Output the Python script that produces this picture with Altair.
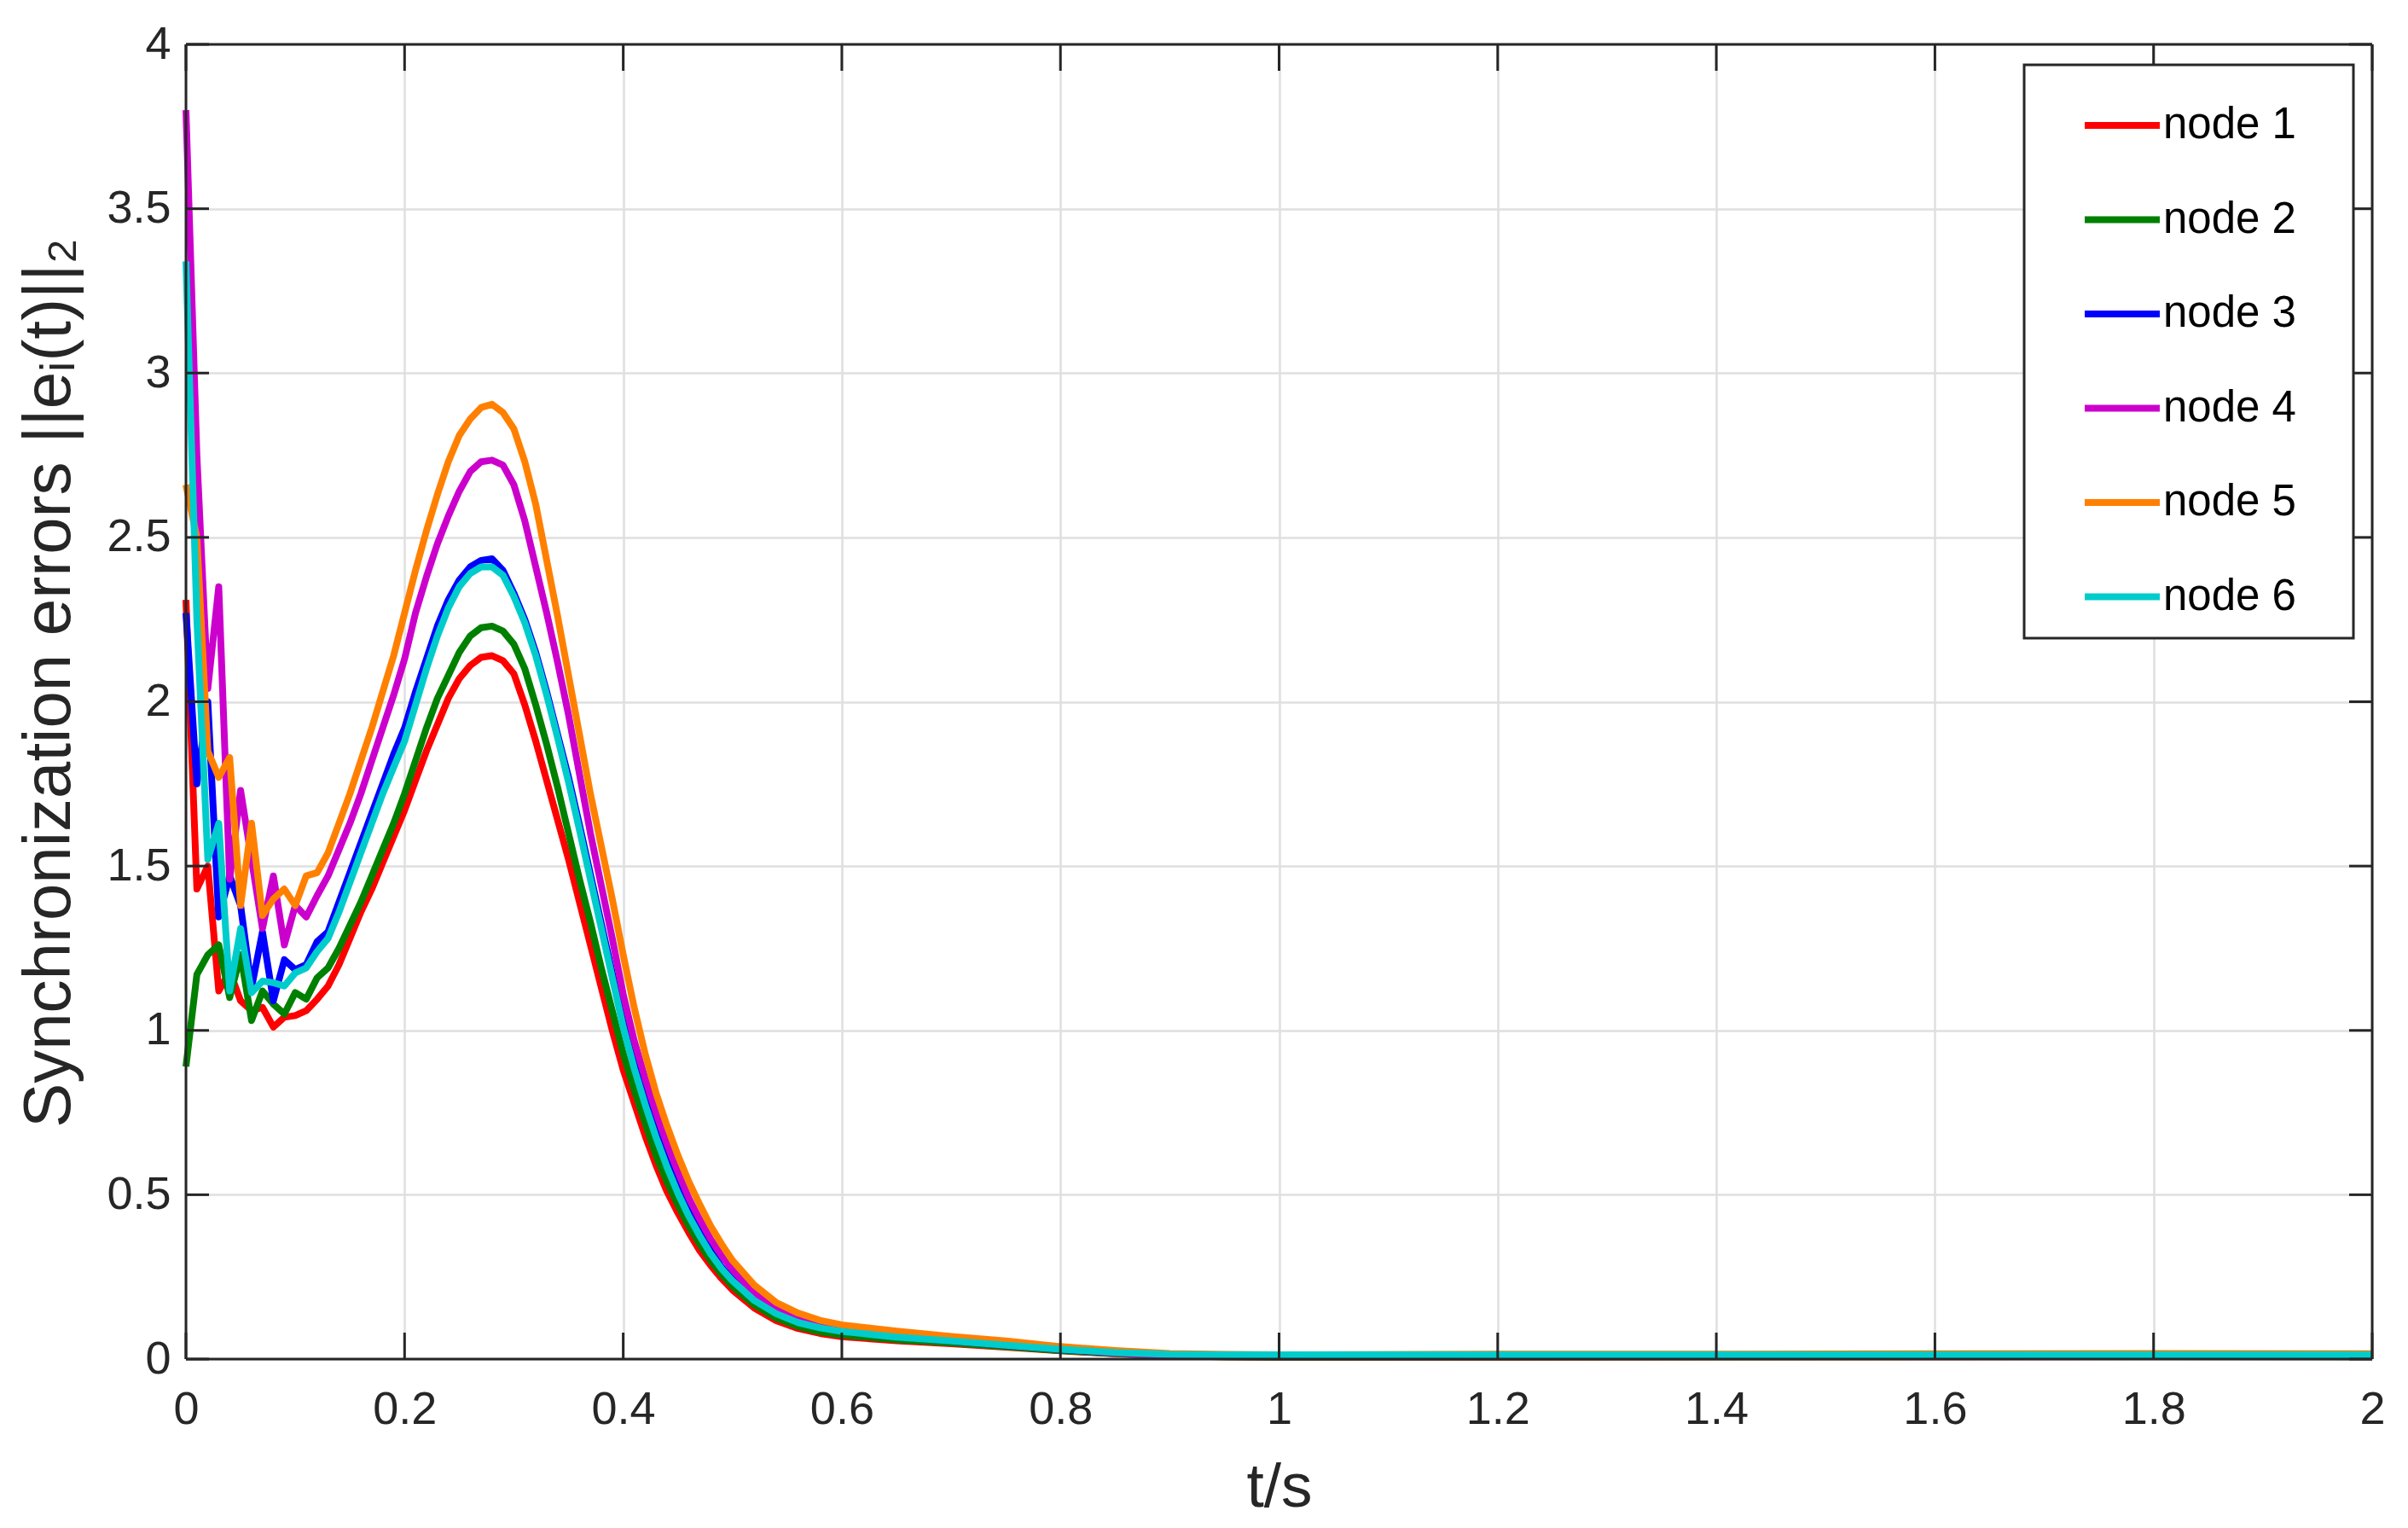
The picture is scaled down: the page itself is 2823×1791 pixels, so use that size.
import altair as alt
import pandas as pd

t = [0.00, 0.01, 0.02, 0.03, 0.04, 0.05, 0.06, 0.07, 0.08, 0.09,
     0.10, 0.11, 0.12, 0.13, 0.14, 0.15, 0.16, 0.17, 0.18, 0.19,
     0.20, 0.21, 0.22, 0.23, 0.24, 0.25, 0.26, 0.27, 0.28, 0.29,
     0.30, 0.31, 0.32, 0.33, 0.34, 0.35, 0.36, 0.37, 0.38, 0.39,
     0.40, 0.41, 0.42, 0.43, 0.44, 0.45, 0.46, 0.47, 0.48, 0.49,
     0.50, 0.52, 0.54, 0.56, 0.58, 0.60, 0.65, 0.70, 0.75, 0.80,
     0.85, 0.90, 0.95, 1.00, 1.2, 1.4, 1.6, 1.8, 2.0]

node1 = [2.31, 1.43, 1.50, 1.12, 1.18, 1.09, 1.06, 1.07, 1.01, 1.04,
         1.045, 1.06, 1.095, 1.135, 1.20, 1.28, 1.36, 1.43, 1.51, 1.59,
         1.67, 1.76, 1.85, 1.93, 2.01, 2.07, 2.11, 2.135, 2.14, 2.125,
         2.085, 1.99, 1.88, 1.76, 1.64, 1.52, 1.39, 1.26, 1.13, 1.00,
         0.88, 0.78, 0.68, 0.59, 0.51, 0.445, 0.385, 0.33, 0.285, 0.245,
         0.21, 0.155, 0.117, 0.093, 0.078, 0.068, 0.056, 0.047, 0.036, 0.025,
         0.016, 0.010, 0.007, 0.006, 0.006, 0.007, 0.007, 0.008, 0.008]

node2 = [0.89, 1.17, 1.23, 1.26, 1.10, 1.23, 1.03, 1.12, 1.08, 1.05,
         1.115, 1.095, 1.16, 1.19, 1.25, 1.32, 1.39, 1.47, 1.55, 1.63,
         1.72, 1.82, 1.92, 2.01, 2.08, 2.15, 2.20, 2.225, 2.23, 2.215,
         2.175, 2.10, 1.99, 1.87, 1.74, 1.60, 1.46, 1.33, 1.19, 1.06,
         0.93, 0.82, 0.72, 0.62, 0.54, 0.47, 0.405, 0.35, 0.30, 0.258,
         0.222, 0.165, 0.125, 0.099, 0.083, 0.073, 0.059, 0.049, 0.038, 0.026,
         0.017, 0.010, 0.007, 0.006, 0.007, 0.007, 0.008, 0.008, 0.007]

node3 = [2.27, 1.75, 2.00, 1.345, 1.47, 1.38, 1.13, 1.30, 1.09, 1.215,
         1.185, 1.20, 1.27, 1.30, 1.39, 1.48, 1.57, 1.66, 1.75, 1.84,
         1.92, 2.03, 2.13, 2.23, 2.31, 2.37, 2.41, 2.43, 2.435, 2.40,
         2.33, 2.25, 2.15, 2.03, 1.90, 1.77, 1.625, 1.475, 1.325, 1.175,
         1.025, 0.90, 0.79, 0.69, 0.60, 0.52, 0.45, 0.385, 0.33, 0.28,
         0.243, 0.182, 0.141, 0.113, 0.097, 0.086, 0.068, 0.055, 0.042, 0.029,
         0.019, 0.012, 0.009, 0.008, 0.009, 0.008, 0.009, 0.009, 0.008]

node4 = [3.80, 2.75, 2.04, 2.35, 1.46, 1.73, 1.52, 1.31, 1.47, 1.26,
         1.38, 1.345, 1.41, 1.47, 1.55, 1.63, 1.72, 1.82, 1.92, 2.02,
         2.13, 2.27, 2.38, 2.48, 2.565, 2.64, 2.70, 2.73, 2.735, 2.72,
         2.66, 2.55, 2.41, 2.27, 2.12, 1.96, 1.78, 1.60, 1.44, 1.28,
         1.11, 0.97, 0.855, 0.75, 0.655, 0.57, 0.49, 0.425, 0.365, 0.315,
         0.272, 0.20, 0.155, 0.125, 0.106, 0.093, 0.073, 0.060, 0.045, 0.031,
         0.019, 0.011, 0.008, 0.007, 0.008, 0.009, 0.008, 0.010, 0.009]

node5 = [2.66, 2.50, 1.85, 1.77, 1.83, 1.38, 1.63, 1.35, 1.40, 1.43,
         1.38, 1.47, 1.48, 1.54, 1.63, 1.72, 1.82, 1.92, 2.03, 2.14,
         2.27, 2.40, 2.52, 2.63, 2.73, 2.81, 2.86, 2.895, 2.905, 2.88,
         2.83, 2.73, 2.60, 2.43, 2.26, 2.08, 1.90, 1.72, 1.56, 1.40,
         1.23, 1.07, 0.93, 0.81, 0.71, 0.62, 0.54, 0.47, 0.405, 0.35,
         0.30, 0.225, 0.172, 0.14, 0.118, 0.104, 0.085, 0.069, 0.055, 0.038,
         0.026, 0.017, 0.014, 0.013, 0.015, 0.015, 0.016, 0.017, 0.016]

node6 = [3.34, 2.25, 1.52, 1.63, 1.12, 1.31, 1.115, 1.15, 1.145, 1.135,
         1.175, 1.19, 1.24, 1.28, 1.36, 1.45, 1.54, 1.63, 1.72, 1.80,
         1.88, 1.99, 2.10, 2.20, 2.285, 2.35, 2.39, 2.41, 2.41, 2.385,
         2.32, 2.24, 2.14, 2.02, 1.89, 1.755, 1.61, 1.46, 1.31, 1.16,
         1.01, 0.885, 0.775, 0.675, 0.585, 0.505, 0.435, 0.375, 0.32, 0.275,
         0.238, 0.178, 0.138, 0.111, 0.095, 0.084, 0.067, 0.055, 0.042, 0.030,
         0.020, 0.014, 0.013, 0.013, 0.013, 0.013, 0.013, 0.013, 0.013]

node_names = ["node 1", "node 2", "node 3", "node 4", "node 5", "node 6"]
node_colors = ["#FF0000", "#008000", "#0000FF", "#CC00CC", "#FF8000", "#00CCCC"]
x_ticks = [0, 0.2, 0.4, 0.6, 0.8, 1.0, 1.2, 1.4, 1.6, 1.8, 2.0]
y_ticks = [0, 0.5, 1.0, 1.5, 2.0, 2.5, 3.0, 3.5, 4.0]
x_edges = [0, 2]
y_edges = [0, 4]

series = [node1, node2, node3, node4, node5, node6]
rows = []
for name, vals in zip(node_names, series):
    for tt, vv in zip(t, vals):
        rows.append({"t": tt, "v": vv, "node": name})
df = pd.DataFrame(rows)
xt_df = pd.DataFrame({"t": x_ticks})
yt_df = pd.DataFrame({"v": y_ticks})
xe_df = pd.DataFrame({"t": x_edges})
ye_df = pd.DataFrame({"v": y_edges})

W, H = 2563, 1541
FRAME = "#262626"
FONT = "Liberation Sans, Arial, Helvetica, sans-serif"

xscale = alt.Scale(domain=[0, 2], nice=False, zero=False)
yscale = alt.Scale(domain=[0, 4], nice=False, zero=False)

lines = alt.Chart(df).mark_line(strokeWidth=8, strokeJoin="round", strokeCap="butt").encode(
    x=alt.X("t:Q", scale=xscale,
            axis=alt.Axis(values=x_ticks, format="~g", title="t/s", grid=True,
                          titleX=W / 2, titleY=150, titleAlign="center",
                          titleBaseline="middle", titleFontSize=73,
                          labelPadding=32, labelFlush=False)),
    y=alt.Y("v:Q", scale=yscale,
            axis=alt.Axis(values=y_ticks, format="~g",
                          title="Synchronization errors ||e\u1d62(t)||\u2082",
                          grid=True, titleX=-160, titleY=748, titleAngle=-90,
                          titleAlign="center", titleBaseline="middle", titleFontSize=78,
                          labelPadding=18, labelFlush=False)),
    color=alt.Color("node:N",
                    scale=alt.Scale(domain=node_names, range=node_colors),
                    legend=alt.Legend(title=".", titleOrient="right", titleOpacity=0,
                                      titleFontSize=10, titlePadding=41,
                                      orient="none", legendX=2155, legendY=24)),
    order=alt.Order("node:N"),
)

frame_x = alt.Chart(xe_df).mark_rule(color=FRAME, strokeWidth=3).encode(
    x=alt.X("t:Q", scale=xscale), y=alt.value(0), y2=alt.value(H))
frame_y = alt.Chart(ye_df).mark_rule(color=FRAME, strokeWidth=3).encode(
    y=alt.Y("v:Q", scale=yscale), x=alt.value(0), x2=alt.value(W))
xb = alt.Chart(xt_df).mark_rule(color=FRAME, strokeWidth=3).encode(
    x=alt.X("t:Q", scale=xscale), y=alt.value(H), y2=alt.value(H - 31))
xtp = alt.Chart(xt_df).mark_rule(color=FRAME, strokeWidth=3).encode(
    x=alt.X("t:Q", scale=xscale), y=alt.value(0), y2=alt.value(31))
yl = alt.Chart(yt_df).mark_rule(color=FRAME, strokeWidth=3).encode(
    y=alt.Y("v:Q", scale=yscale), x=alt.value(0), x2=alt.value(27))
yr = alt.Chart(yt_df).mark_rule(color=FRAME, strokeWidth=3).encode(
    y=alt.Y("v:Q", scale=yscale), x=alt.value(W), x2=alt.value(W - 27))

chart = alt.layer(lines, frame_x, frame_y, xb, xtp, yl, yr).properties(
    width=W, height=H,
    padding={"left": 210, "top": 44, "right": 34, "bottom": 190},
    autosize=alt.AutoSizeParams(type="none"),
    background="white",
).configure_view(
    stroke=None
).configure_axis(
    ticks=False, tickSize=0, domain=False,
    gridColor="#dfdfdf", gridWidth=2.5, gridOpacity=1,
    labelFont=FONT, labelFontSize=54, labelColor=FRAME,
    titleFont=FONT, titleFontWeight="normal", titleColor=FRAME,
).configure_legend(
    symbolType="stroke", symbolStrokeWidth=8, symbolSize=7744,
    labelFont=FONT, labelFontSize=51, labelColor="black", labelOffset=0,
    rowPadding=37.5, padding=23, symbolOffset=44,
    strokeColor=FRAME, fillColor="white", strokeWidth=3,
    labelLimit=0,
)

chart.save("out.html", embed_options={"renderer": "svg", "actions": False})
